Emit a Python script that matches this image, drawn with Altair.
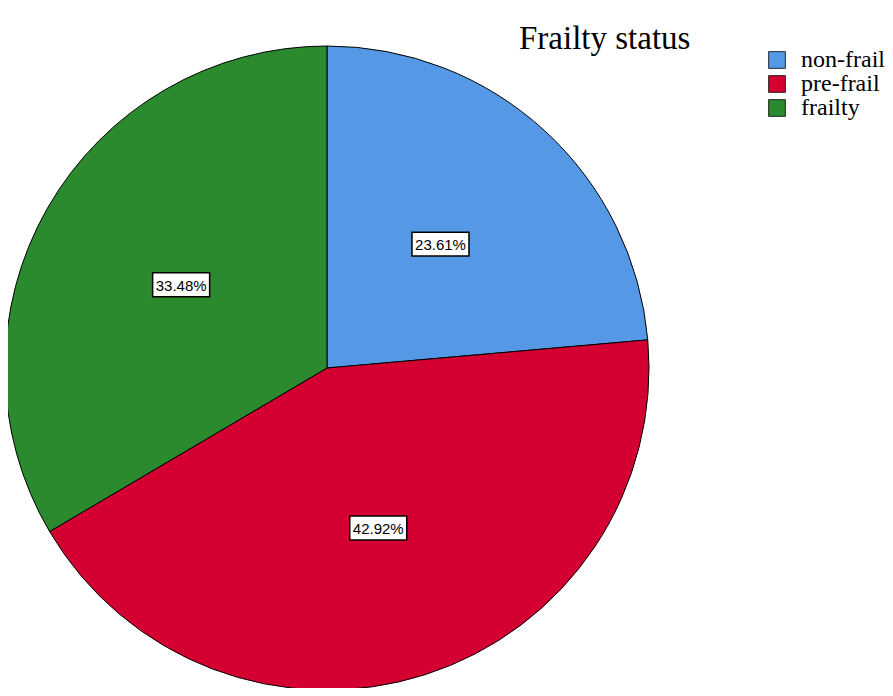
import altair as alt
import pandas as pd

categories = ["non-frail", "pre-frail", "frailty"]
percents = [23.61, 42.92, 33.48]
colors = ["#5599E6", "#D50032", "#2B8A2E"]
title_text = "Frailty status"

df = pd.DataFrame({"category": categories, "value": percents, "order": list(range(len(categories)))})

CX, CY, R = 319, 360, 322
LR = 168

base = alt.Chart(df)

pie = base.mark_arc(outerRadius=R, stroke="black", strokeWidth=1).encode(
    theta=alt.Theta("value:Q", stack=True),
    order=alt.Order("order:Q", sort="ascending"),
    color=alt.Color(
        "category:N",
        scale=alt.Scale(domain=categories, range=colors),
        legend=alt.Legend(
            orient="none", legendX=757, legendY=40, title=None,
            symbolType="square", symbolSize=280, symbolStrokeColor="black",
            symbolStrokeWidth=0.8, labelFont="Liberation Serif", labelFontSize=24,
            labelColor="black", labelOffset=12, rowPadding=-2.5,
        ),
    ),
    x=alt.value(CX),
    y=alt.value(CY),
)

pos = base.transform_window(
    cum="sum(value)", sort=[alt.SortField("order")]
).transform_joinaggregate(total="sum(value)").transform_calculate(
    mid="(datum.cum - datum.value/2)/datum.total*2*PI",
    lx=f"{CX} + {LR}*sin(datum.mid)",
    ly=f"{CY} - {LR}*cos(datum.mid)",
    label="format(datum.value, '.2f') + '%'",
)

boxes = pos.mark_point(
    shape="M-1,-0.42L1,-0.42L1,0.42L-1,0.42Z", size=3249,
    fill="white", fillOpacity=1, stroke="black", strokeWidth=1.5, opacity=1,
).encode(
    x=alt.X("lx:Q", scale=None),
    y=alt.Y("ly:Q", scale=None),
)

labels = pos.mark_text(
    font="Liberation Sans", fontSize=15, color="black", align="center", baseline="middle", dy=1,
).encode(
    x=alt.X("lx:Q", scale=None),
    y=alt.Y("ly:Q", scale=None),
    text="label:N",
)

title = alt.Chart(pd.DataFrame({"t": [title_text]})).mark_text(
    font="Liberation Serif", fontSize=33, color="black", align="left", baseline="alphabetic",
).encode(x=alt.value(511), y=alt.value(41), text="t:N")

chart = alt.layer(pie, boxes, labels, title).properties(
    width=877, height=680, autosize=alt.AutoSizeParams(type="none"), padding=0,
).configure_view(stroke=None)

chart.save("out.html", embed_options={"renderer": "svg", "actions": False})
